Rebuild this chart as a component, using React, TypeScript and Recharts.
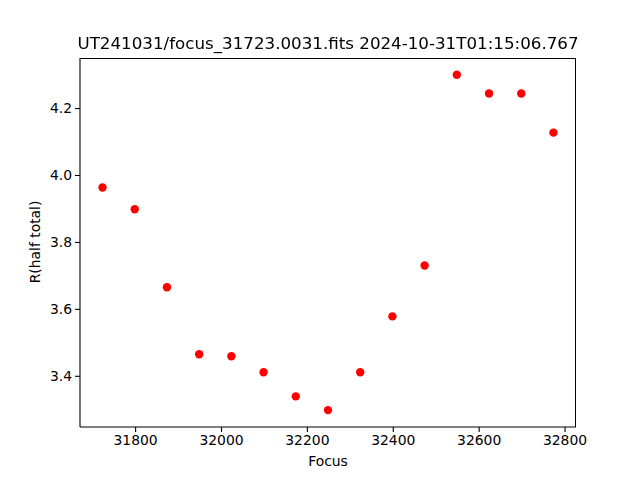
import { Scatter, ScatterChart, XAxis, YAxis } from "recharts"

const focus = [31723, 31798, 31873, 31948, 32023, 32098, 32173, 32248, 32323, 32398, 32473, 32548, 32623, 32698, 32773]
const halfTotal = [3.964, 3.899, 3.666, 3.466, 3.460, 3.412, 3.340, 3.299, 3.412, 3.579, 3.731, 4.301, 4.245, 4.245, 4.128]
const xTicks = [31800, 32000, 32200, 32400, 32600, 32800]
const yTicks = [3.4, 3.6, 3.8, 4.0, 4.2]

const title = "UT241031/focus_31723.0031.fits 2024-10-31T01:15:06.767"
const font = "'DejaVu Sans', sans-serif"

const points = focus.map((f, i) => ({ focus: f, r: halfTotal[i] }))

function Dot(props: { cx?: number; cy?: number }) {
  return <circle cx={props.cx} cy={props.cy} r={4.2} fill="#ff0000" />
}

export default function App() {
  const tick = { fill: "#000", fontSize: 13.9, fontFamily: font }
  const line = { stroke: "#000", strokeWidth: 1.1 }
  return (
    <div style={{ position: "fixed", left: 0, top: 0, width: 640, height: 480, background: "#fff", fontFamily: font }}>
      <ScatterChart width={640} height={480} margin={{ top: 58, right: 64, left: 0, bottom: 0 }}>
        <XAxis
          type="number"
          dataKey="focus"
          domain={[31670.5, 32825.5]}
          ticks={xTicks}
          allowDataOverflow
          height={53}
          tick={tick}
          tickSize={5}
          tickMargin={3}
          axisLine={line}
          tickLine={line}
        />
        <YAxis
          type="number"
          dataKey="r"
          domain={[3.2485, 4.351]}
          ticks={yTicks}
          allowDataOverflow
          width={80}
          tick={tick}
          tickSize={5}
          tickMargin={3}
          tickFormatter={(v: number) => v.toFixed(1)}
          axisLine={line}
          tickLine={line}
        />
        <Scatter data={points} shape={<Dot />} isAnimationActive={false} />
      </ScatterChart>
      {/* axes frame (top and right spines) */}
      <div style={{ position: "absolute", left: 80, top: 58, width: 496, height: 369, boxSizing: "border-box", borderTop: "1px solid #000", borderRight: "1px solid #000", pointerEvents: "none" }} />
      <div style={{ position: "absolute", left: 0, width: 656, top: 33, textAlign: "center", fontSize: 16.7, color: "#000", whiteSpace: "nowrap" }}>
        {title}
      </div>
      <div style={{ position: "absolute", left: 80, width: 496, top: 453, textAlign: "center", fontSize: 13.9, color: "#000" }}>
        Focus
      </div>
      <div
        style={{
          position: "absolute",
          left: 35,
          top: 242,
          fontSize: 13.9,
          color: "#000",
          whiteSpace: "nowrap",
          transform: "translate(-50%, -50%) rotate(-90deg)",
        }}
      >
        R(half total)
      </div>
    </div>
  )
}
